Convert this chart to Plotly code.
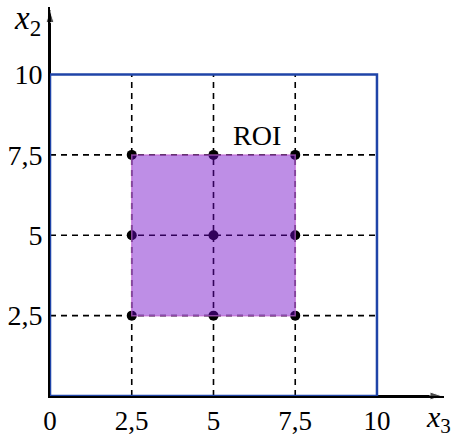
import plotly.graph_objects as go

# ---- data ----
domain_min = 0
domain_max = 10
axis_end = 12
roi_min = 2.5
roi_max = 7.5
grid_vals = [2.5, 5, 7.5]
x_tick_vals = [0, 2.5, 5, 7.5, 10]
x_tick_text = ["0", "2,5", "5", "7,5", "10"]
y_tick_vals = [2.5, 5, 7.5, 10]
y_tick_text = ["2,5", "5", "7,5", "10"]
point_x = [2.5, 5, 7.5, 2.5, 5, 7.5, 2.5, 5, 7.5]
point_y = [2.5, 2.5, 2.5, 5, 5, 5, 7.5, 7.5, 7.5]
roi_label = "ROI"
x_label = "<i>x</i><sub>3</sub>"
y_label = "<i>x</i><sub>2</sub>"

SERIF = "Liberation Serif"

fig = go.Figure()

# axis arrows (lines with arrow markers at the tips)
fig.add_trace(go.Scatter(
    x=[domain_min, axis_end], y=[domain_min, domain_min], mode="lines+markers",
    line=dict(color="black", width=2),
    marker=dict(symbol="arrow", size=[0, 13], color="black", angleref="previous"),
    cliponaxis=False, hoverinfo="skip", showlegend=False,
))
fig.add_trace(go.Scatter(
    x=[domain_min, domain_min], y=[domain_min, axis_end], mode="lines+markers",
    line=dict(color="black", width=2),
    marker=dict(symbol="arrow", size=[0, 13], color="black", angleref="previous"),
    cliponaxis=False, hoverinfo="skip", showlegend=False,
))

fig.add_trace(go.Scatter(
    x=point_x, y=point_y, mode="markers",
    marker=dict(size=10, color="black"),
    cliponaxis=False, hoverinfo="skip", showlegend=False,
))

shapes = []
# dashed grid lines
for v in grid_vals:
    shapes.append(dict(type="line", xref="x", yref="y",
                       x0=domain_min, x1=domain_max, y0=v, y1=v,
                       line=dict(color="black", width=1.6, dash="6px,5px")))
    shapes.append(dict(type="line", xref="x", yref="y",
                       x0=v, x1=v, y0=domain_min, y1=domain_max,
                       line=dict(color="black", width=1.6, dash="6px,5px")))
# ROI rectangle
shapes.append(dict(type="rect", xref="x", yref="y",
                   x0=roi_min, x1=roi_max, y0=roi_min, y1=roi_max,
                   fillcolor="rgba(110,5,200,0.45)",
                   line=dict(color="rgba(190,100,210,0.7)", width=1.5)))
# blue domain square
shapes.append(dict(type="rect", xref="x", yref="y",
                   x0=domain_min, x1=domain_max, y0=domain_min, y1=domain_max,
                   fillcolor="rgba(0,0,0,0)",
                   line=dict(color="#1f44a8", width=2.5)))

annotations = [
    dict(x=6.33, y=8.1, xref="x", yref="y", text=roi_label, showarrow=False,
         font=dict(family=SERIF, size=28, color="black")),
    dict(x=-0.056, y=0.965, xref="paper", yref="paper", text=y_label,
         xanchor="center", yanchor="middle",
         showarrow=False, font=dict(family=SERIF, size=33, color="black")),
    dict(x=0.985, y=-0.058, xref="paper", yref="paper", text=x_label,
         xanchor="center", yanchor="middle",
         showarrow=False, font=dict(family=SERIF, size=30, color="black")),
]

fig.update_layout(
    width=457, height=437,
    margin=dict(l=50, r=13, t=7, b=41),
    paper_bgcolor="white", plot_bgcolor="white",
    shapes=shapes, annotations=annotations,
    showlegend=False,
    xaxis=dict(range=[0, 12.05], showgrid=False, zeroline=False,
               showline=True, linecolor="black", linewidth=2,
               tickvals=x_tick_vals, ticktext=x_tick_text, ticks="",
               ticklabelstandoff=0, automargin=False,
               tickfont=dict(family=SERIF, size=27, color="black"),
               fixedrange=True),
    yaxis=dict(range=[0, 12.1], showgrid=False, zeroline=False,
               showline=True, linecolor="black", linewidth=2,
               tickvals=y_tick_vals, ticktext=y_tick_text, ticks="",
               automargin=False,
               tickfont=dict(family=SERIF, size=28, color="black"),
               fixedrange=True),
)

fig.write_html("out.html")
